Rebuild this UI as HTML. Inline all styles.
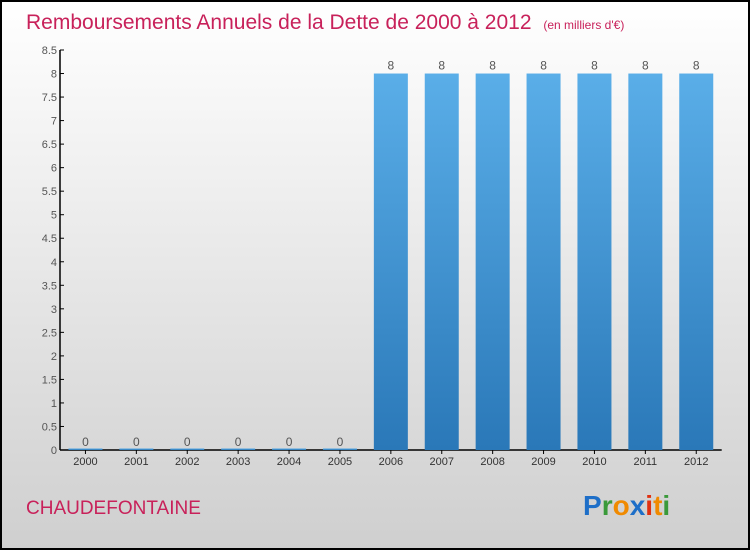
<!DOCTYPE html>
<html><head><meta charset="utf-8"><style>
body{margin:0}
svg{display:block;font-family:"Liberation Sans",sans-serif}
</style></head><body>
<svg width="750" height="550">
<defs>
<linearGradient id="bg" x1="0" y1="0" x2="0" y2="1"><stop offset="0" stop-color="#ffffff"/><stop offset="1" stop-color="#cfcfcf"/></linearGradient>
<linearGradient id="bar" x1="0" y1="0" x2="0" y2="1"><stop offset="0" stop-color="#5aaee8"/><stop offset="1" stop-color="#2a78b8"/></linearGradient>
</defs>
<rect x="1" y="1" width="748" height="548" fill="url(#bg)" stroke="#000" stroke-width="2"/>
<text x="26" y="29" font-size="21" fill="#c8215a">Remboursements Annuels de la Dette de 2000 à 2012 <tspan font-size="12" dx="6">(en milliers d'€)</tspan></text>
<g id="axes"></g>
<g id="bars"></g>
<text x="26" y="514" font-size="19" fill="#c8215a">CHAUDEFONTAINE</text>
<text x="583" y="515" font-size="28" font-weight="bold"><tspan fill="#1e6fc8">P</tspan><tspan fill="#3a9a3a">r</tspan><tspan fill="#f08a00">o</tspan><tspan fill="#1e6fc8">x</tspan><tspan fill="#e03010">i</tspan><tspan fill="#f08a00">t</tspan><tspan fill="#3a9a3a">i</tspan></text>
</svg>
<script>
const categories=["2000","2001","2002","2003","2004","2005","2006","2007","2008","2009","2010","2011","2012"];
const values=[0,0,0,0,0,0,8,8,8,8,8,8,8];
const yTicks=[0,0.5,1,1.5,2,2.5,3,3.5,4,4.5,5,5.5,6,6.5,7,7.5,8,8.5];
const NS="http://www.w3.org/2000/svg";
const x0=60,band=50.9,y0=450,yTop=50,yMax=8.5;
const y=v=>y0-(v/yMax)*(y0-yTop);
const ax=document.getElementById('axes'),bg=document.getElementById('bars');
function mk(t,a,p){const e=document.createElementNS(NS,t);for(const k in a)e.setAttribute(k,a[k]);p.appendChild(e);return e;}
let l=mk('line',{x1:x0,y1:yTop,x2:x0,y2:y0,stroke:'#000','stroke-width':1.5},ax);


l=mk('line',{x1:x0,y1:y0,x2:x0+band*13,y2:y0,stroke:'#000','stroke-width':1.5},ax);


yTicks.forEach(v=>{
 mk('line',{x1:x0,y1:y(v),x2:x0+4,y2:y(v),stroke:'#000'},ax);
 const t=mk('text',{x:x0-3,y:y(v)+4,'text-anchor':'end','font-size':11,fill:'#555'},ax);
 t.textContent=String(v);
 
 
});
categories.forEach((c,i)=>{
 const cx=x0+band*(i+0.5),v=values[i];
 const h=Math.max(y0-y(v),1.5);
 const r=mk('rect',{x:cx-17,y:y0-h,width:34,height:h,fill:'url(#bar)'},bg);
 
 
 mk('line',{x1:cx,y1:y0,x2:cx,y2:y0+4,stroke:'#000'},ax);
 const t=mk('text',{x:cx,y:y0+15,'text-anchor':'middle','font-size':11,fill:'#333'},ax);
 t.textContent=c;
 
 
 const vl=mk('text',{x:cx,y:y(v)-4,'text-anchor':'middle','font-size':12,fill:'#555'},bg);
 vl.textContent=String(v);
 
 
});
</script>
</body></html>
